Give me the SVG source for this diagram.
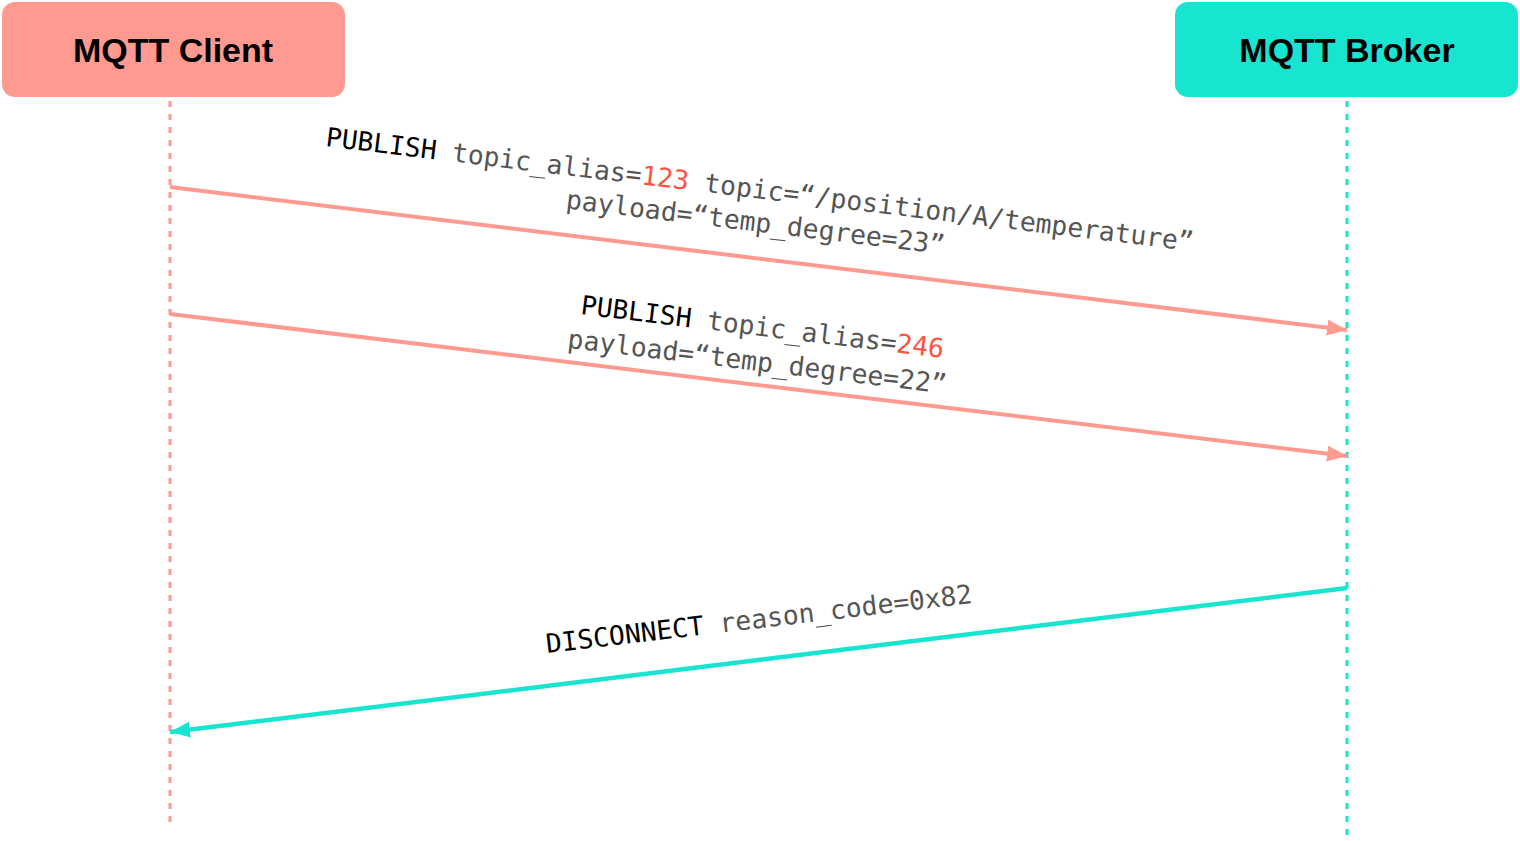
<svg xmlns="http://www.w3.org/2000/svg" width="1520" height="841" viewBox="0 0 1520 841">
<style>
.box-text{font-family:"Liberation Sans",Arial,sans-serif;font-weight:bold;font-size:34px;fill:#000;text-anchor:middle}
.lbl{font-family:"DejaVu Sans Mono","Liberation Mono",monospace;font-size:26.4px;fill:#555}
.kw{fill:#000}
.num{fill:#FF5242}
.life-c{stroke:#FF9A90;stroke-width:3;stroke-dasharray:6 7;fill:none}
.life-b{stroke:#17E5D0;stroke-width:3;stroke-dasharray:6 7;fill:none}
.msg-c{stroke:#FF9A90;stroke-width:4;fill:none}
.msg-b{stroke:#17E5D0;stroke-width:4.5;fill:none}
</style>
<defs>
<marker id="ah-pink" markerUnits="userSpaceOnUse" markerWidth="22" markerHeight="18" refX="20" refY="8" orient="auto">
<path d="M0,0 L20,8 L0,16 z" fill="#FF9A90"/>
</marker>
<marker id="ah-cyan" markerUnits="userSpaceOnUse" markerWidth="22" markerHeight="18" refX="20" refY="8" orient="auto">
<path d="M0,0 L20,8 L0,16 z" fill="#17E5D0"/>
</marker>
</defs>
<rect width="1520" height="841" fill="#fff"/>
<g id="client">
<rect x="2" y="2" width="343" height="95" rx="13" fill="#FF9A90"/>
<text class="box-text" x="173" y="62">MQTT Client</text>
<line class="life-c" x1="170" y1="101" x2="170" y2="826"/>
</g>
<g id="broker">
<rect x="1175" y="2" width="343" height="95" rx="13" fill="#17E5D0"/>
<text class="box-text" x="1347" y="62">MQTT Broker</text>
<line class="life-b" x1="1347" y1="101" x2="1347" y2="841"/>
</g>
<g id="connectors">
<line class="msg-c" x1="170" y1="187" x2="1347" y2="330" marker-end="url(#ah-pink)"/>
<line class="msg-c" x1="170" y1="314" x2="1347" y2="456" marker-end="url(#ah-pink)"/>
<line class="msg-b" x1="1347" y1="588" x2="170" y2="732" marker-end="url(#ah-cyan)"/>
</g>
<g id="label-publish-1" transform="translate(325,146) rotate(6.9)">
<text class="lbl" x="0" y="0"><tspan class="kw">PUBLISH</tspan> topic_alias=<tspan class="num">123</tspan> topic=“/position/A/temperature”</text>
<text class="lbl" x="246" y="33">payload=“temp_degree=23”</text>
</g>
<g id="label-publish-2" transform="translate(580,314) rotate(6.9)">
<text class="lbl" x="0" y="0"><tspan class="kw">PUBLISH</tspan> topic_alias=<tspan class="num">246</tspan></text>
<text class="lbl" x="-9" y="35">payload=“temp_degree=22”</text>
</g>
<g id="label-disconnect" transform="translate(547,653) rotate(-6.7)">
<text class="lbl" x="0" y="0"><tspan class="kw">DISCONNECT</tspan> reason_code=0x82</text>
</g>
</svg>
